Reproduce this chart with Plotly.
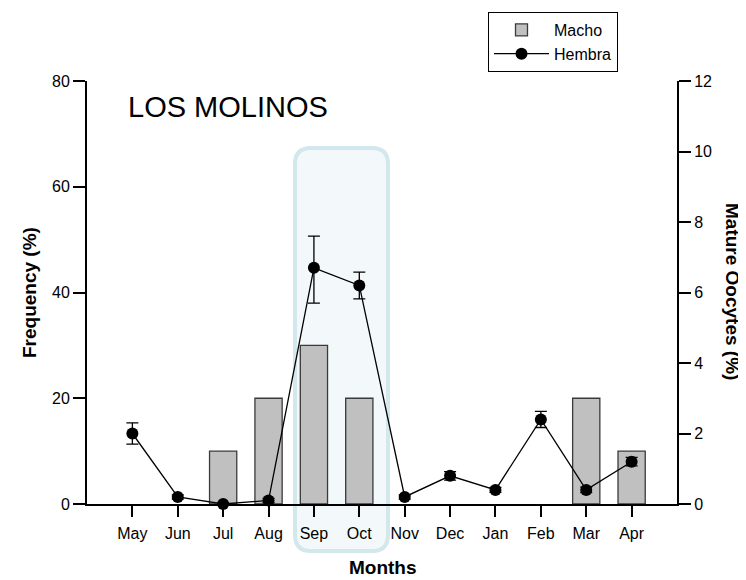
import plotly.graph_objects as go

months = ["May", "Jun", "Jul", "Aug", "Sep", "Oct", "Nov", "Dec", "Jan", "Feb", "Mar", "Apr"]
macho = [0, 0, 10, 20, 30, 20, 0, 0, 0, 0, 20, 10]
hembra = [2.0, 0.2, 0.0, 0.1, 6.7, 6.2, 0.2, 0.8, 0.4, 2.4, 0.4, 1.2]
hembra_err_plus = [0.3, 0.06, 0.03, 0.06, 0.9, 0.38, 0.06, 0.12, 0.07, 0.23, 0.08, 0.12]
hembra_err_minus = [0.3, 0.06, 0.03, 0.06, 1.0, 0.38, 0.06, 0.12, 0.07, 0.23, 0.08, 0.12]

W, H = 746, 580
OFF = 8  # page body margin
# plot area in screenshot pixels
PX0, PX1, PY0, PY1 = 87, 677, 81, 504
ML = PX0 - OFF
MT = PY0 - OFF
MR = (OFF + W) - PX1
MB = (OFF + H) - PY1
PW, PH = PX1 - PX0, PY1 - PY0

FONT = "Liberation Sans, Arial, sans-serif"


def px(x):
    return (x - PX0) / PW


def py(y):
    return (PY1 - y) / PH


# rounded highlight box (pixel geometry converted to paper coords)
x0, x1, y0, y1, r = 295, 388, 148, 551, 16
path = (
    f"M {px(x0 + r)},{py(y0)} L {px(x1 - r)},{py(y0)} "
    f"Q {px(x1)},{py(y0)} {px(x1)},{py(y0 + r)} "
    f"L {px(x1)},{py(y1 - r)} Q {px(x1)},{py(y1)} {px(x1 - r)},{py(y1)} "
    f"L {px(x0 + r)},{py(y1)} Q {px(x0)},{py(y1)} {px(x0)},{py(y1 - r)} "
    f"L {px(x0)},{py(y0 + r)} Q {px(x0)},{py(y0)} {px(x0 + r)},{py(y0)} Z"
)

# zero-height bars are not drawn (no outline on the axis)
macho_drawn = [v if v > 0 else None for v in macho]

fig = go.Figure()
fig.add_trace(go.Bar(
    x=months, y=macho_drawn, name="Macho", width=0.6,
    marker=dict(color="#c0c0c0", line=dict(color="#3a3a3a", width=1.3)),
))
fig.add_trace(go.Scatter(
    x=months, y=hembra, name="Hembra", yaxis="y2", mode="lines+markers",
    line=dict(color="black", width=1.3),
    marker=dict(color="black", size=12),
    error_y=dict(type="data", array=hembra_err_plus, arrayminus=hembra_err_minus,
                 color="black", thickness=1.3, width=6),
    cliponaxis=False,
))

fig.add_shape(type="path", path=path, xref="paper", yref="paper", layer="below",
              line=dict(color="#d2e8ed", width=4), fillcolor="#f3f9fa")

fig.add_annotation(text="LOS MOLINOS", xref="paper", yref="paper",
                   x=px(126), y=py(107), xanchor="left", yanchor="middle",
                   showarrow=False, font=dict(size=29, color="black", family=FONT))
fig.add_annotation(text="<b>Mature Oocytes (%)</b>", xref="paper", yref="paper",
                   x=px(733), y=py(291), xanchor="center", yanchor="middle",
                   textangle=90, showarrow=False,
                   font=dict(size=19, color="black", family=FONT))
fig.add_annotation(text="<b>Frequency (%)</b>", xref="paper", yref="paper",
                   x=px(29), y=py(293), xanchor="center", yanchor="middle",
                   textangle=-90, showarrow=False,
                   font=dict(size=19, color="black", family=FONT))
fig.add_annotation(text="<b>Months</b>", xref="paper", yref="paper",
                   x=px(383), y=py(567), xanchor="center", yanchor="middle",
                   showarrow=False,
                   font=dict(size=19, color="black", family=FONT))

fig.update_layout(
    width=W, height=H,
    margin=dict(l=ML, r=MR, t=MT, b=MB, autoexpand=False),
    paper_bgcolor="white", plot_bgcolor="rgba(0,0,0,0)",
    font=dict(family=FONT, size=16, color="black"),
    showlegend=True,
    legend=dict(x=px(488), y=py(12), xanchor="left", yanchor="top",
                bordercolor="black", borderwidth=1, bgcolor="white",
                font=dict(size=16, family=FONT), itemwidth=55,
                tracegroupgap=0),
    xaxis=dict(
        type="category", range=[-1, 12],
        showline=True, linecolor="black", linewidth=2,
        ticks="outside", ticklen=11, tickwidth=2, tickcolor="black",
        showgrid=False, zeroline=False,
        tickfont=dict(size=16), ticklabelstandoff=3,
    ),
    yaxis=dict(
        range=[0, 80], tickvals=[0, 20, 40, 60, 80],
        showline=True, linecolor="black", linewidth=2,
        ticks="outside", ticklen=12, tickwidth=2, tickcolor="black",
        showgrid=False, zeroline=False,
        tickfont=dict(size=16),
    ),
    yaxis2=dict(
        range=[0, 12], tickvals=[0, 2, 4, 6, 8, 10, 12],
        overlaying="y", side="right",
        showline=True, linecolor="black", linewidth=2,
        ticks="outside", ticklen=12, tickwidth=2, tickcolor="black",
        showgrid=False, zeroline=False,
        tickfont=dict(size=16),
    ),
)

fig.write_html("out.html")
